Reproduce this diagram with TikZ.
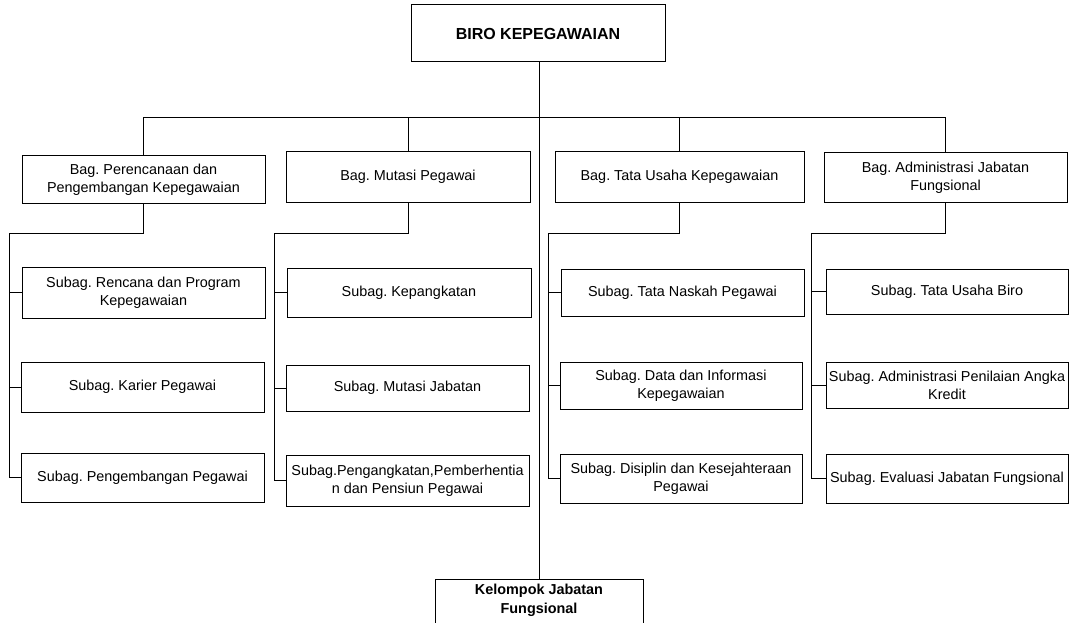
\documentclass[tikz,border=0pt]{standalone}
\usepackage{fontspec}
\setmainfont{Liberation Sans}
\frenchspacing
\begin{document}
\begin{tikzpicture}[x=1pt,y=-1pt,
  line width=1pt,
  box/.style={draw, rectangle, inner sep=0pt, align=center,
    font=\fontsize{14.4}{18}\selectfont},
  conn/.style={draw, line width=1pt}]
\useasboundingbox (0,0) rectangle (1071,623);
\clip (0,0) rectangle (1071,623);
% top
\node[box, minimum width=254, minimum height=57, font=\fontsize{16}{19}\selectfont\bfseries] (biro) at (538,33.5) {BIRO KEPEGAWAIAN};
% bagian
\node[box, minimum width=243, minimum height=47] (bag1) at (143.5,179.5) {Bag. Perencanaan dan\\Pengembangan Kepegawaian};
\node[box, minimum width=244, minimum height=50] (bag2) at (408,177) {Bag. Mutasi Pegawai};
\node[box, minimum width=249, minimum height=50] (bag3) at (679.5,177) {Bag. Tata Usaha Kepegawaian};
\node[box, minimum width=243, minimum height=49] (bag4) at (945.5,177.5) {Bag. Administrasi Jabatan\\Fungsional};
% column 1
\node[box, minimum width=243, minimum height=51] (s11) at (143.5,292.5) {Subag. Rencana dan Program\\Kepegawaian};
\node[box, minimum width=243, minimum height=50] (s12) at (142.5,387) {Subag. Karier Pegawai};
\node[box, minimum width=243, minimum height=49] (s13) at (142.5,477.5) {Subag. Pengembangan Pegawai};
% column 2
\node[box, minimum width=244, minimum height=49] (s21) at (409,292.5) {Subag. Kepangkatan};
\node[box, minimum width=243, minimum height=46] (s22) at (407.5,388) {Subag. Mutasi Jabatan};
\node[box, minimum width=243, minimum height=51] (s23) at (407.5,480.5) {Subag.Pengangkatan,Pemberhentia\\n dan Pensiun Pegawai};
% column 3
\node[box, minimum width=243, minimum height=47] (s31) at (682.5,292.5) {Subag. Tata Naskah Pegawai};
\node[box, minimum width=242, minimum height=47] (s32) at (681,385.5) {Subag. Data dan Informasi\\Kepegawaian};
\node[box, minimum width=242, minimum height=49] (s33) at (681,478.5) {Subag. Disiplin dan Kesejahteraan\\Pegawai};
% column 4
\node[box, minimum width=242, minimum height=45] (s41) at (947,291.5) {Subag. Tata Usaha Biro};
\node[box, minimum width=242, minimum height=46] (s42) at (947,385) {Subag. Administrasi Penilaian Angka\\Kredit};
\node[box, minimum width=242, minimum height=49] (s43) at (947,478.5) {Subag. Evaluasi Jabatan Fungsional};
% kelompok
\node[box, minimum width=208, minimum height=80, anchor=north] (kel) at (539,579) {};
\node[font=\fontsize{14.4}{18.5}\selectfont\bfseries, align=center, anchor=north, inner sep=0pt] (keltext) at ([yshift=-5pt]kel.north) {Kelompok Jabatan\\Fungsional};
% bus coordinates
\coordinate (bus) at (539,118);
\coordinate (sb1) at (9,233);
\coordinate (sb2) at (274.5,233);
\coordinate (sb3) at (548,233);
\coordinate (sb4) at (811.5,233);
% connectors top
\draw (biro.south -| kel.north) -- (kel.north);
\draw (bag1.north) |- (bag4.north |- bus) -- (bag4.north);
\draw (bag2.north) -- (bag2.north |- bus);
\draw (bag3.north) -- (bag3.north |- bus);
% column connectors
\draw (bag1.south) |- (sb1) |- (s13.west);
\draw (sb1 |- s11.west) -- (s11.west);
\draw (sb1 |- s12.west) -- (s12.west);
\draw (bag2.south) |- (sb2) |- (s23.west);
\draw (sb2 |- s21.west) -- (s21.west);
\draw (sb2 |- s22.west) -- (s22.west);
\draw (bag3.south) |- (sb3) |- (s33.west);
\draw (sb3 |- s31.west) -- (s31.west);
\draw (sb3 |- s32.west) -- (s32.west);
\draw (bag4.south) |- (sb4) |- (s43.west);
\draw (sb4 |- s41.west) -- (s41.west);
\draw (sb4 |- s42.west) -- (s42.west);
\end{tikzpicture}
\end{document}
